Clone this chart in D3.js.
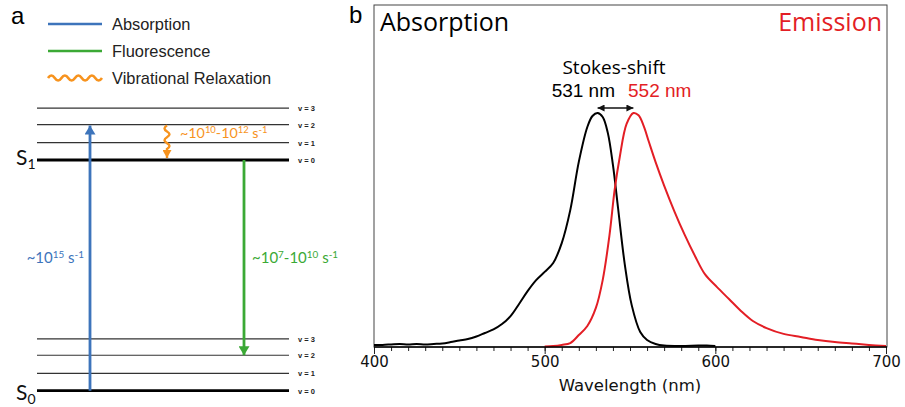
<!DOCTYPE html>
<html>
<head>
<meta charset="utf-8">
<script src="https://cdn.jsdelivr.net/npm/d3@7"></script>
<style>
  html, body { margin: 0; padding: 0; background: #fff; }
  svg { display: block; }
</style>
</head>
<body>
<svg id="fig" width="905" height="407"></svg>
<script>
// ---------- data ----------
// Panel a: vibrational levels (energy in vibrational quanta above S0 v=0)
const groundLevels = [0, 1, 2.05, 3.0];
const excitedLevels = [13.35, 14.35, 15.4, 16.35];
const levelNames = ["v = 0", "v = 1", "v = 2", "v = 3"];
const legendItems = ["Absorption", "Fluorescence", "Vibrational Relaxation"];

// Panel b: normalized absorption spectrum [wavelength nm, intensity]
const absWavelength = [400, 405, 410, 415, 420, 425, 430, 435, 440, 445, 450, 455, 460, 465, 470, 475, 480, 485, 490, 495, 500, 505, 510, 515, 520, 525, 528, 531, 534, 537, 540, 543, 547, 551, 556, 560, 565, 570, 580, 590, 595, 600];
const absIntensity  = [0.009, 0.009, 0.011, 0.013, 0.011, 0.013, 0.011, 0.013, 0.015, 0.021, 0.028, 0.034, 0.045, 0.060, 0.075, 0.098, 0.132, 0.184, 0.239, 0.286, 0.321, 0.359, 0.444, 0.585, 0.791, 0.940, 0.987, 1.0, 0.983, 0.915, 0.778, 0.594, 0.350, 0.179, 0.064, 0.030, 0.013, 0.006, 0.004, 0.006, 0.006, 0.004];

// Panel b: normalized emission spectrum
const emWavelength = [500, 505, 510, 515, 520, 525, 530, 534, 538, 541, 544, 548, 552, 555, 558, 561, 565, 570, 576, 582, 588, 594, 601, 608, 615, 622, 630, 640, 650, 660, 670, 680, 690, 700];
const emIntensity  = [0.002, 0.004, 0.009, 0.017, 0.051, 0.090, 0.167, 0.286, 0.479, 0.671, 0.812, 0.953, 1.0, 0.99, 0.945, 0.878, 0.79, 0.69, 0.58, 0.48, 0.39, 0.31, 0.256, 0.205, 0.154, 0.111, 0.081, 0.056, 0.043, 0.030, 0.021, 0.015, 0.009, 0.004];

const absPeak = 531;
const emPeak = 552;
const xTicks = [400, 500, 600, 700];

// ---------- style ----------
const BLUE = "#3d74bb", GREEN = "#3ba935", ORANGE = "#f7931e", RED = "#e31e25";
const svg = d3.select("#fig");

const defs = svg.append("defs");
function marker(id, color, w, h) {
  defs.append("marker").attr("id", id)
    .attr("viewBox", `0 0 ${w} ${h}`).attr("refX", w).attr("refY", h / 2)
    .attr("markerWidth", w).attr("markerHeight", h).attr("markerUnits", "userSpaceOnUse")
    .attr("orient", "auto-start-reverse")
    .append("path").attr("d", `M0,0L${w},${h / 2}L0,${h}Z`).attr("fill", color);
}
marker("ah-blue", BLUE, 9, 11);
marker("ah-green", GREEN, 9, 11);
marker("ah-orange", ORANGE, 8, 9);
marker("ah-black", "#111", 7, 7);

// ================= Panel a =================
const pa = svg.append("g");
pa.append("text").attr("x", 11).attr("y", 24).text("a")
  .attr("font-family", "Liberation Sans, Arial, sans-serif").attr("font-size", 24);

// legend
const legY = d3.scalePoint().domain(legendItems).range([24, 78]);
legendItems.forEach((name, i) => {
  const ly = legY(name);
  if (i < 2) {
    pa.append("line").attr("x1", 48).attr("x2", 102).attr("y1", ly).attr("y2", ly)
      .attr("stroke", i === 0 ? BLUE : GREEN).attr("stroke-width", 2.6);
  } else {
    let d = `M48,${ly}`;
    const n = 4, w = 54 / n;
    for (let k = 0; k < n; k++) {
      const x0 = 48 + k * w;
      d += ` Q${x0 + w / 4},${ly - 5} ${x0 + w / 2},${ly} Q${x0 + 3 * w / 4},${ly + 5} ${x0 + w},${ly}`;
    }
    pa.append("path").attr("d", d).attr("fill", "none").attr("stroke", ORANGE).attr("stroke-width", 2.6);
  }
  pa.append("text").attr("x", 112).attr("y", ly + 6).text(name)
    .attr("font-family", "Liberation Sans, Arial, sans-serif").attr("font-size", 16.4).attr("fill", "#222");
});

// energy scale
const yE = d3.scaleLinear().domain([0, 13.35]).range([390.7, 160]);
const levelX0 = 37, levelX1 = 289;

function drawLevels(levels) {
  levels.forEach((e, i) => {
    pa.append("line").attr("x1", levelX0).attr("x2", levelX1)
      .attr("y1", yE(e)).attr("y2", yE(e))
      .attr("stroke", i === 0 ? "#000" : "#333").attr("stroke-width", i === 0 ? 2.8 : 1.2);
    pa.append("text").attr("x", 298).attr("y", yE(e) + 3).text(levelNames[i])
      .attr("font-family", "Liberation Sans, Arial, sans-serif").attr("font-size", 7.5)
      .attr("font-weight", "bold").attr("fill", "#222");
  });
}
drawLevels(groundLevels);
drawLevels(excitedLevels);

function stateLabel(yy, sub) {
  const t = pa.append("text").attr("x", 16).attr("y", yy)
    .attr("font-family", "Lato, 'Open Sans', sans-serif").attr("font-size", 21).attr("fill", "#111");
  t.append("tspan").text("S");
  t.append("tspan").attr("dy", 4).attr("font-size", 14).text(sub);
}
stateLabel(yE(excitedLevels[0]) + 5, "1");
stateLabel(yE(groundLevels[0]) + 9, "0");

// absorption arrow S0 v0 -> S1 v2
pa.append("line").attr("x1", 90).attr("x2", 90)
  .attr("y1", yE(groundLevels[0])).attr("y2", yE(excitedLevels[2]) + 1)
  .attr("stroke", BLUE).attr("stroke-width", 2.8).attr("marker-end", "url(#ah-blue)");
// fluorescence arrow S1 v0 -> S0 v2
pa.append("line").attr("x1", 244).attr("x2", 244)
  .attr("y1", yE(excitedLevels[0])).attr("y2", yE(groundLevels[2]))
  .attr("stroke", GREEN).attr("stroke-width", 2.8).attr("marker-end", "url(#ah-green)");
// vibrational relaxation S1 v2 -> S1 v0 (wavy line ending in a straight arrowhead)
{
  const y0a = yE(excitedLevels[2]) + 1, tip = yE(excitedLevels[0]) - 2, xw = 167;
  const wigEnd = tip - 9;
  const n = 2, h = (wigEnd - y0a) / n;
  let d = `M${xw},${y0a}`;
  for (let k = 0; k < n; k++) {
    const yk = y0a + k * h;
    d += ` Q${xw - 5},${yk + h / 4} ${xw},${yk + h / 2} Q${xw + 5},${yk + 3 * h / 4} ${xw},${yk + h}`;
  }
  d += ` L${xw},${tip}`;
  pa.append("path").attr("d", d).attr("fill", "none").attr("stroke", ORANGE)
    .attr("stroke-width", 2.4).attr("marker-end", "url(#ah-orange)");
}

function rateLabel(lx, ly, color, parts, anchor, size) {
  const fs = size || 15, ss = fs * 0.66, up = fs * 0.36;
  const t = pa.append("text").attr("x", lx).attr("y", ly).attr("text-anchor", anchor || "start")
    .attr("font-family", "Lato, 'Open Sans', sans-serif").attr("font-size", fs).attr("fill", color);
  let raised = false;
  parts.forEach(([s, sup]) => {
    const sp = t.append("tspan").text(s);
    if (sup && !raised) { sp.attr("dy", -up).attr("font-size", ss); raised = true; }
    else if (sup) { sp.attr("font-size", ss); }
    else if (raised) { sp.attr("dy", up); raised = false; }
  });
}
rateLabel(84, 263, BLUE, [["~10"], ["15", 1], [" s"], ["-1", 1]], "end");
rateLabel(252, 263, GREEN, [["~10"], ["7", 1], ["-10"], ["10", 1], [" s"], ["-1", 1]]);
rateLabel(180, 138, ORANGE, [["~10"], ["10", 1], ["-10"], ["12", 1], [" s"], ["-1", 1]], "start", 14.3);

// ================= Panel b =================
const pLeft = 374, pRight = 887, pTop = 5, pBottom = 347;
const x = d3.scaleLinear().domain([400, 700]).range([pLeft, pRight - 1]);
const y = d3.scaleLinear().domain([0, 1.4615]).range([pBottom, pTop]);

svg.append("text").attr("x", 349).attr("y", 23).text("b")
  .attr("font-family", "Liberation Sans, Arial, sans-serif").attr("font-size", 24);

svg.append("rect").attr("x", pLeft).attr("y", pTop).attr("width", pRight - pLeft).attr("height", pBottom - pTop)
  .attr("fill", "none").attr("stroke", "#444").attr("stroke-width", 1);

const line = d3.line().x(d => x(d[0])).y(d => y(d[1])).curve(d3.curveCatmullRom.alpha(0.5));
svg.append("path").datum(d3.zip(absWavelength, absIntensity)).attr("d", line)
  .attr("fill", "none").attr("stroke", "#000").attr("stroke-width", 2);
svg.append("path").datum(d3.zip(emWavelength, emIntensity)).attr("d", line)
  .attr("fill", "none").attr("stroke", RED).attr("stroke-width", 2);

// x axis with minor ticks
const ax = svg.append("g").attr("transform", `translate(0,${pBottom})`);
ax.call(d3.axisBottom(x).tickValues(d3.range(400, 701, 10)).tickSize(4).tickFormat(""))
  .call(g => g.select(".domain").remove());
ax.append("g").call(d3.axisBottom(x).tickValues(xTicks).tickSize(7).tickPadding(2).tickFormat(d3.format("d")))
  .call(g => g.select(".domain").remove())
  .call(g => g.selectAll("text").attr("font-family", "DejaVu Sans, Verdana, sans-serif").attr("font-size", 15).attr("fill", "#111"));
ax.selectAll(".tick line").attr("stroke", "#222");
ax.append("line").attr("x1", pLeft).attr("x2", pRight).attr("stroke", "#000").attr("stroke-width", 1.6);

svg.append("text").attr("x", 630).attr("y", 391).attr("text-anchor", "middle")
  .text("Wavelength (nm)").attr("font-family", "DejaVu Sans, Verdana, sans-serif")
  .attr("font-size", 16.5).attr("fill", "#111");

svg.append("text").attr("x", 380).attr("y", 31).text("Absorption")
  .attr("font-family", "'Open Sans', sans-serif").attr("font-size", 25).attr("fill", "#000");
svg.append("text").attr("x", 882).attr("y", 31).attr("text-anchor", "end").text("Emission")
  .attr("font-family", "'Open Sans', sans-serif").attr("font-size", 25).attr("fill", RED);

// Stokes shift annotation
const ay = 108;
svg.append("line").attr("x1", x(absPeak)).attr("x2", x(emPeak)).attr("y1", ay).attr("y2", ay)
  .attr("stroke", "#111").attr("stroke-width", 1.3)
  .attr("marker-start", "url(#ah-black)").attr("marker-end", "url(#ah-black)");
svg.append("text").attr("x", 614).attr("y", 74).attr("text-anchor", "middle").text("Stokes-shift")
  .attr("font-family", "'Open Sans', sans-serif").attr("font-size", 19).attr("fill", "#000");
svg.append("text").attr("x", 615).attr("y", 97).attr("text-anchor", "end").text(`${absPeak} nm`)
  .attr("font-family", "Liberation Sans, Arial, sans-serif").attr("font-size", 19).attr("fill", "#000");
svg.append("text").attr("x", 628).attr("y", 97).text(`${emPeak} nm`)
  .attr("font-family", "Liberation Sans, Arial, sans-serif").attr("font-size", 19).attr("fill", RED);
</script>
</body>
</html>
